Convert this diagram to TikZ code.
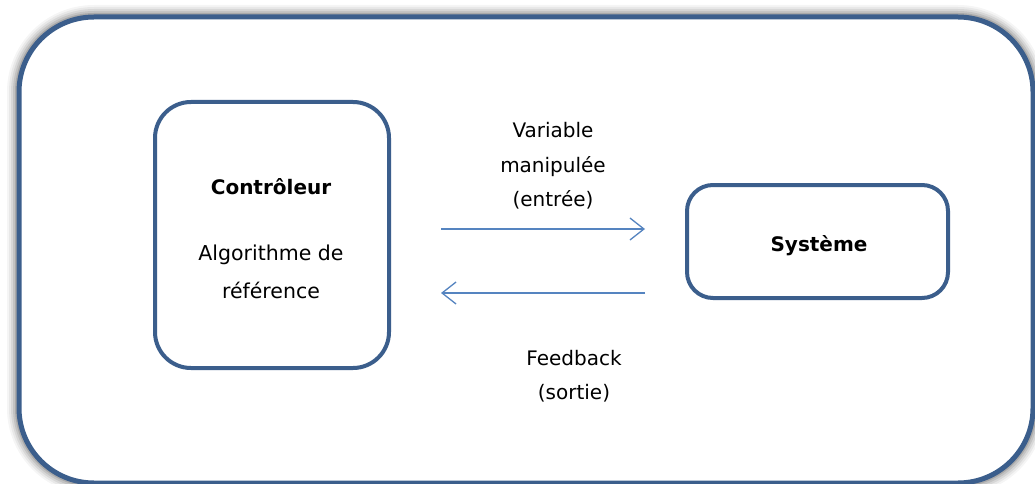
\documentclass[tikz,border=0pt]{standalone}
\usepackage{fontspec}
\setmainfont{DejaVu Sans}
\usetikzlibrary{arrows.meta}
\definecolor{frame}{HTML}{3B5E8C}
\definecolor{flow}{HTML}{5584C0}
\tikzset{
  x=1pt, y=-1pt,
  block/.style={draw=frame, line width=4pt, rounded corners=#1},
  flowarrow/.style={draw=flow, line width=1.3pt,
    -{Straight Barb[length=14pt, width=22pt, line width=1.3pt]}},
  label/.style={font=\fontsize{20}{34.5}\selectfont, align=center, text=black},
  title/.style={font=\fontsize{20}{34.5}\selectfont\bfseries, text=black}
}
\begin{document}
\begin{tikzpicture}
\useasboundingbox (0,0) rectangle (1035,484);
\fill[white] (0,0) rectangle (1035,484);
% soft halo around the outer frame
\foreach \w/\o in {24/0.04,20/0.05,16/0.07,12/0.09,8/0.13}{
  \draw[black, opacity=\o, line width=\w pt, rounded corners=75]
    (19,17) rectangle (1033,483);
}
\fill[white, rounded corners=75] (19,17) rectangle (1033,483);
\draw[block=75, line width=5pt] (19,17) rectangle (1033,483);

% blocks
\draw[block=36] (155,102) rectangle (389,368);
\node[title] (ctl) at (271,187) {Contrôleur};
\node[label, font=\fontsize{20.5}{38}\selectfont] (algo) at (271,272)
  {Algorithme de\\référence};

\draw[block=26] (687,185) rectangle (948,298);
\node[title] (sys) at (819,246) {Système};

% signal arrows
\coordinate (inA) at (441,229);
\coordinate (inB) at (645,229);
\coordinate (fbA) at (645,293);
\coordinate (fbB) at (441,293);
\draw[flowarrow] (inA) -- (inB);
\draw[flowarrow] (fbA) -- (fbB);

\node[label] (inlab) at (553,166) {Variable\\manipulée\\(entrée)};
\node[label] (fblab) at (574,376) {Feedback\\(sortie)};
\end{tikzpicture}
\end{document}
